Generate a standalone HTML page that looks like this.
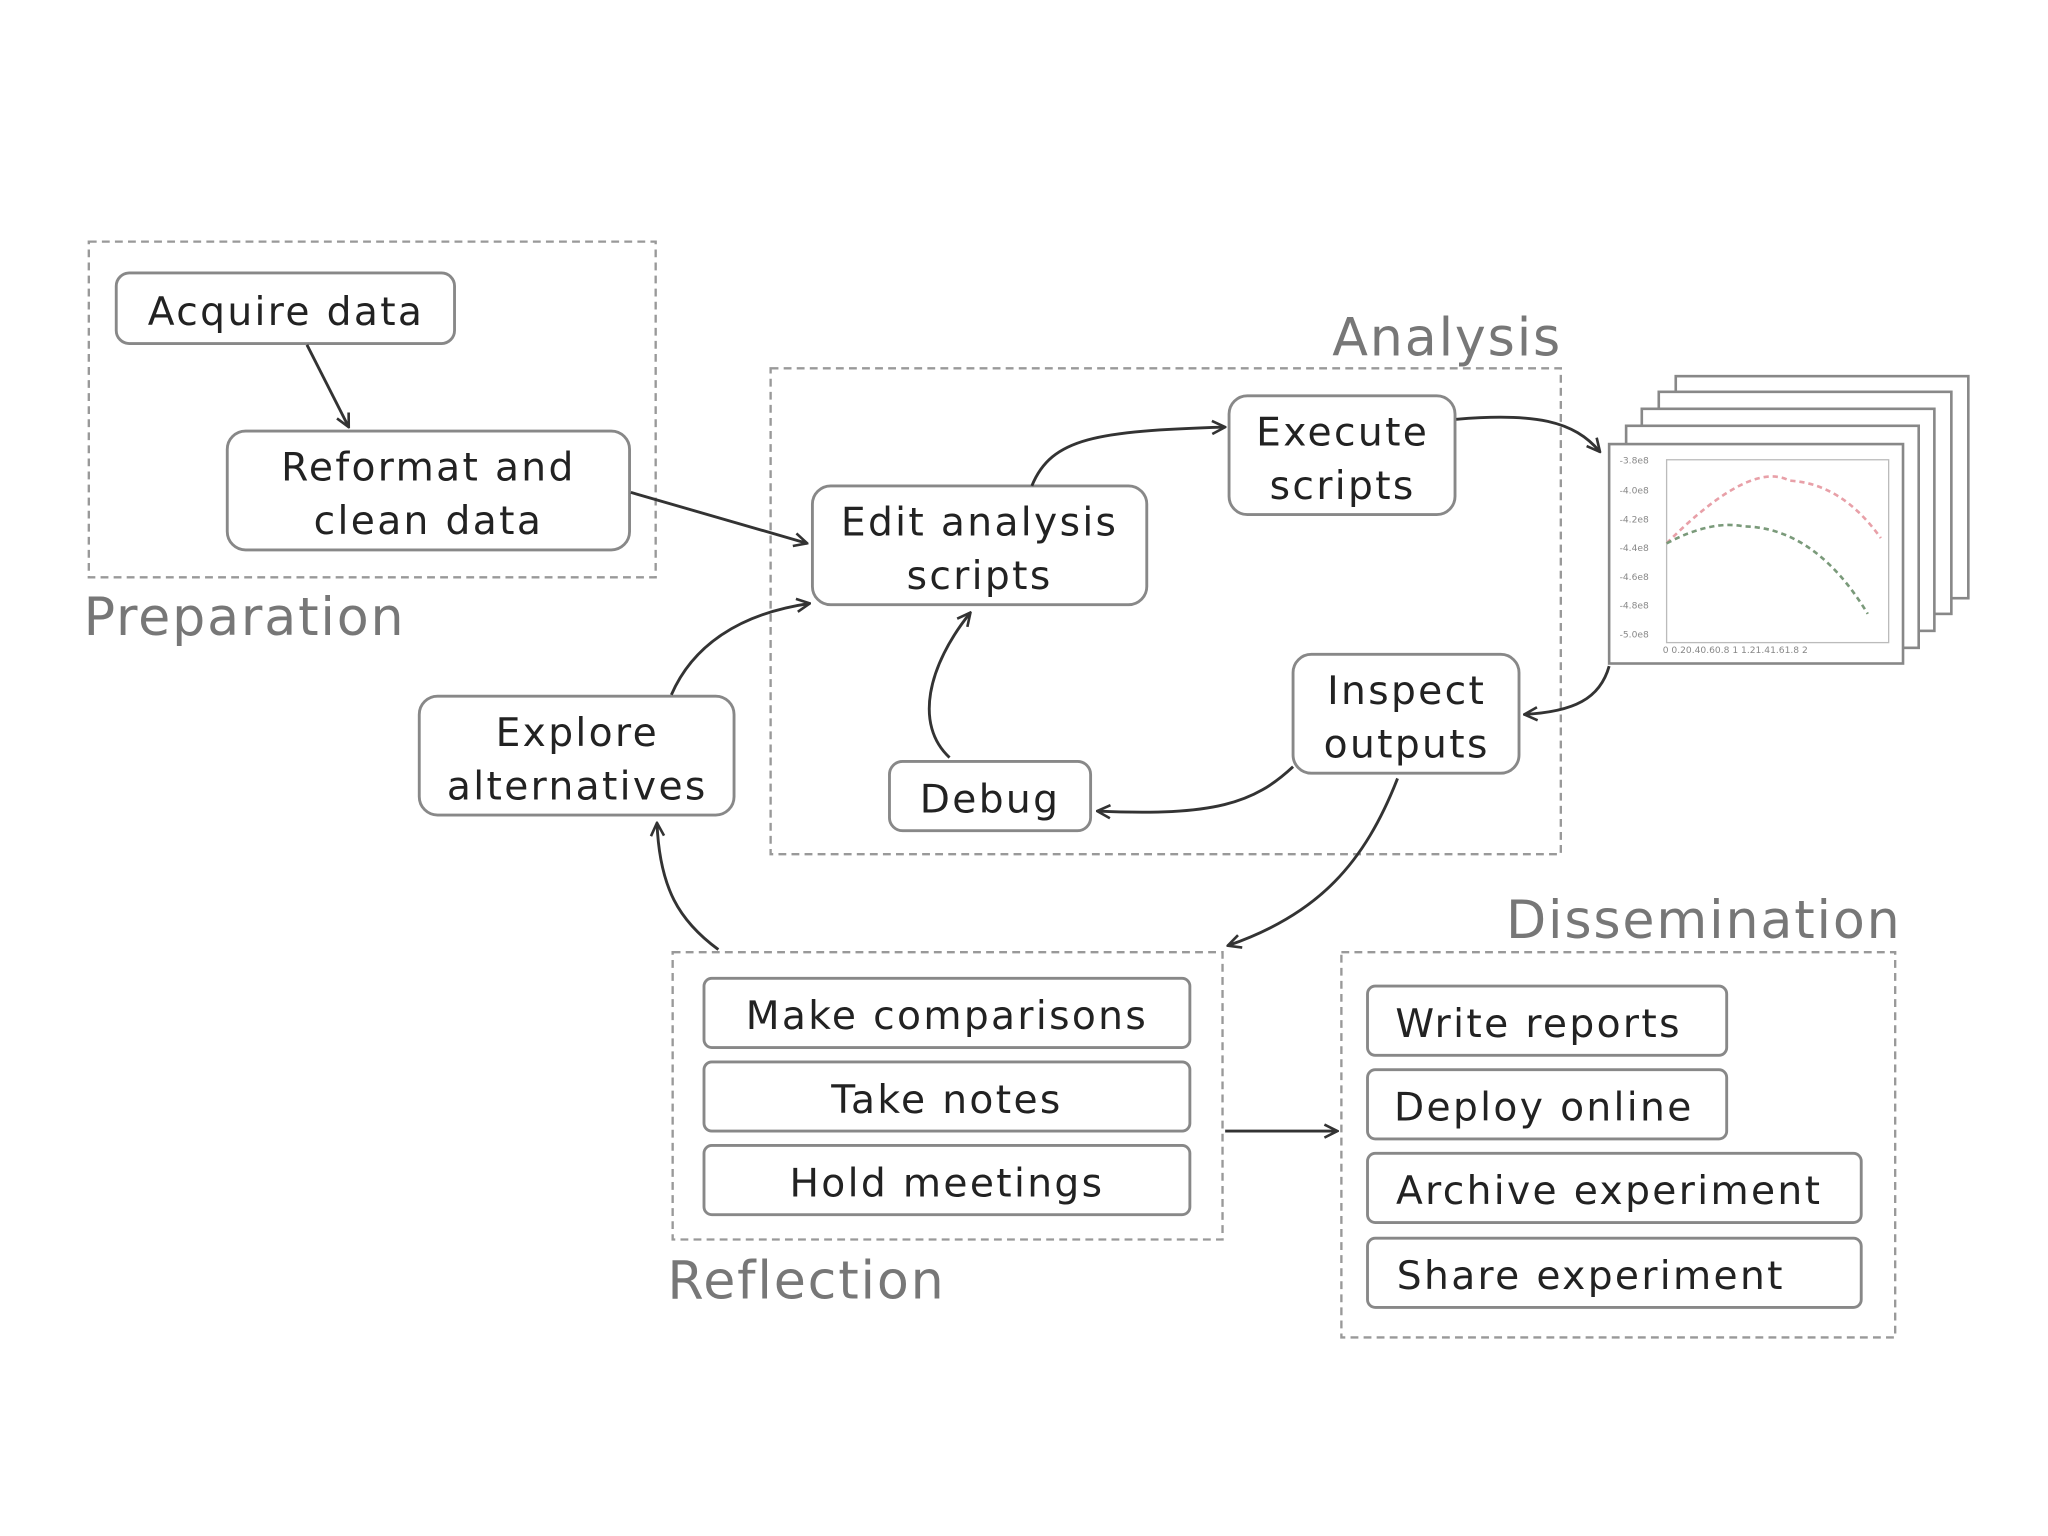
<!DOCTYPE html>
<html><head><meta charset="utf-8"><style>
html,body{margin:0;padding:0;background:#fff;}
svg{display:block;}
text{font-family:"DejaVu Sans","Liberation Sans",sans-serif;}
.b{fill:#fff;stroke:#888;stroke-width:2.2;}
.g{fill:none;stroke:#999;stroke-width:1.8;stroke-dasharray:6 4;}
.t{font-size:30px;fill:#222;text-anchor:middle;letter-spacing:1.8px;}
.h{font-size:40px;fill:#777;letter-spacing:1.4px;}
.a{fill:none;stroke:#333;stroke-width:2.2;}
.p{fill:#fff;stroke:#888;stroke-width:2;}
</style></head><body>
<svg width="2048" height="1536" viewBox="0 0 1568 1176" xmlns="http://www.w3.org/2000/svg">
<defs><marker id="m" viewBox="0 0 12 12" refX="11" refY="6" markerWidth="12" markerHeight="12" markerUnits="userSpaceOnUse" orient="auto"><path d="M1,1 L11,6 L1,11" fill="none" stroke="#333" stroke-width="2"/></marker></defs>
<rect class="g" x="68" y="185" width="434" height="257"/>
<text class="h" x="64" y="486">Preparation</text>
<rect class="g" x="590" y="282" width="605" height="372"/>
<text class="h" x="1020" y="272">Analysis</text>
<rect class="g" x="515" y="729" width="421" height="220"/>
<text class="h" x="511" y="994">Reflection</text>
<rect class="g" x="1027" y="729" width="424" height="295"/>
<text class="h" x="1153" y="718">Dissemination</text>
<rect class="b" x="89" y="209" width="259" height="54" rx="10"/><text class="t" x="219" y="249">Acquire data</text>
<rect class="b" x="174" y="330" width="308" height="91" rx="14"/><text class="t" x="328" y="368">Reformat and</text><text class="t" x="328" y="409">clean data</text>
<rect class="b" x="622" y="372" width="256" height="91" rx="14"/><text class="t" x="750" y="410">Edit analysis</text><text class="t" x="750" y="451">scripts</text>
<rect class="b" x="941" y="303" width="173" height="91" rx="14"/><text class="t" x="1028" y="341">Execute</text><text class="t" x="1028" y="382">scripts</text>
<rect class="b" x="990" y="501" width="173" height="91" rx="14"/><text class="t" x="1077" y="539">Inspect</text><text class="t" x="1077" y="580">outputs</text>
<rect class="b" x="681" y="583" width="154" height="53" rx="10"/><text class="t" x="758" y="622">Debug</text>
<rect class="b" x="321" y="533" width="241" height="91" rx="14"/><text class="t" x="442" y="571">Explore</text><text class="t" x="442" y="612">alternatives</text>
<rect class="b" x="539" y="749" width="372" height="53" rx="6"/><text class="t" x="725" y="788">Make comparisons</text>
<rect class="b" x="539" y="813" width="372" height="53" rx="6"/><text class="t" x="725" y="852">Take notes</text>
<rect class="b" x="539" y="877" width="372" height="53" rx="6"/><text class="t" x="725" y="916">Hold meetings</text>
<rect class="b" x="1047" y="755" width="275" height="53" rx="6"/><text class="t" x="1178" y="794">Write reports</text>
<rect class="b" x="1047" y="819" width="275" height="53" rx="6"/><text class="t" x="1182" y="858">Deploy online</text>
<rect class="b" x="1047" y="883" width="378" height="53" rx="6"/><text class="t" x="1232" y="922">Archive experiment</text>
<rect class="b" x="1047" y="948" width="378" height="53" rx="6"/><text class="t" x="1218" y="987">Share experiment</text>
<rect class="p" x="1283" y="288" width="224" height="170"/>
<rect class="p" x="1270" y="300" width="224" height="170"/>
<rect class="p" x="1257" y="313" width="224" height="170"/>
<rect class="p" x="1245" y="326" width="224" height="170"/>
<rect class="p" x="1232" y="340" width="225" height="168"/>
<rect x="1276" y="352" width="170" height="140" fill="none" stroke="#bbb" stroke-width="1"/>
<g font-size="7" fill="#888"><text x="1240" y="355">-3.8e8</text><text x="1240" y="378">-4.0e8</text><text x="1240" y="400">-4.2e8</text><text x="1240" y="422">-4.4e8</text><text x="1240" y="444">-4.6e8</text><text x="1240" y="466">-4.8e8</text><text x="1240" y="488">-5.0e8</text><text x="1273" y="500">0 0.20.40.60.8  1  1.21.41.61.8  2</text></g>
<path d="M1276,416 Q1340,352 1370,368 Q1410,370 1440,412" fill="none" stroke="#e8a0a8" stroke-width="2" stroke-dasharray="4 3"/>
<path d="M1276,416 Q1310,398 1335,403 Q1390,404 1430,470" fill="none" stroke="#7a9a7a" stroke-width="2" stroke-dasharray="4 3"/>
<path class="a" d="M235,264 L267,327" marker-end="url(#m)"/>
<path class="a" d="M483,377 L618,416" marker-end="url(#m)"/>
<path class="a" d="M790,372 C805,335 840,330 938,327" marker-end="url(#m)"/>
<path class="a" d="M1115,321 C1175,316 1205,322 1225,346" marker-end="url(#m)"/>
<path class="a" d="M1232,510 C1225,535 1205,545 1167,547" marker-end="url(#m)"/>
<path class="a" d="M990,587 C960,615 930,625 840,621" marker-end="url(#m)"/>
<path class="a" d="M727,580 C700,555 710,510 743,469" marker-end="url(#m)"/>
<path class="a" d="M514,532 C530,495 565,470 620,462" marker-end="url(#m)"/>
<path class="a" d="M550,727 C520,705 505,680 503,630" marker-end="url(#m)"/>
<path class="a" d="M1070,596 C1045,660 1010,700 940,724" marker-end="url(#m)"/>
<path class="a" d="M938,866 L1024,866" marker-end="url(#m)"/>
</svg>
</body></html>
